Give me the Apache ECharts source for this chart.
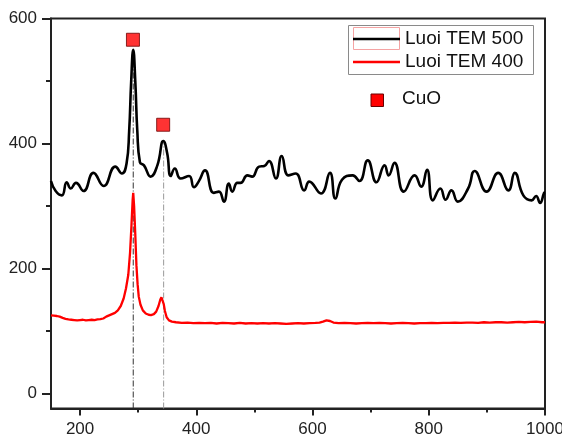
<!DOCTYPE html>
<html>
<head>
<meta charset="utf-8">
<script src="https://cdn.jsdelivr.net/npm/echarts@6/dist/echarts.min.js"></script>
<style>
html,body{margin:0;padding:0;background:#fff;}
#c{width:562px;height:436px;}
</style>
</head>
<body>
<div id="c"></div>
<script>
// ---- data ----
var xTicks = [200, 400, 600, 800, 1000];
var xMinorTicks = [300, 500, 700, 900];
var yTicks = [0, 200, 400, 600];
var yMinorTicks = [100, 300, 500];

var seriesNames = ['Luoi TEM 500', 'Luoi TEM 400'];

// Luoi TEM 500 (black)
var tem500 = [
  [150,340],[158,324],[168.6,317],[177,338],[184,328],[193,337],[206,324],[223,353],[240.6,332],
  [260.7,363],[272,352],[280,368],[284.5,420],[288,500],[291.5,550],[295,500],[298.5,420],[303,370],
  [310,365],[321.5,347],[333,365],[343.4,404],[350,384],[356,348],[363,360],[373,344],[387.6,348],
  [396,330],[404,339],[415,357],[430,321],[439,323],[447.5,307],[456,336],[462,323],[470.5,337],
  [476,337],[488,349],[496,347],[508,363],[517,364],[525,372],[537,344],[547,380],[558.5,349],
  [571,352],[585.7,325],[594.3,339],[614.5,320],[630,353],[639.3,312],[650.7,342],[669,349],
  [680.7,340],[695,373],[710,338],[724,365],[731,349],[741,369],[757,323],[775.7,349],[787,331],
  [797,358],[807,309],[820,328],[829,310],[839,325],[850,307],[867.7,328],[879,356],[899.5,323],
  [919.5,353],[937,325],[948,353],[962.7,317],[977,309],[984.7,316],[991.5,305],[998.5,321],[1000,322]
];

// Luoi TEM 400 (red)
var tem400 = [
  [150,125],[155,124.5],[160,124],[165,123],[170,121],[175,119.5],[180,118.5],[185,118],[190,117.5],
  [195,117],[200,117.5],[205,118],[210,117],[215,117.5],[220,118],[225,117.5],[230,118.5],[235,119],
  [240,120],[245,123],[250,125],[255,127],[260,129],[265,133],[270,140],[275,152],[279,168],[283,190],
  [286,225],[288.5,270],[290.5,310],[291.5,321],[293,300],[295,255],[297,205],[299,175],[301,155],
  [304,142],[308,133],[313,128],[318,126],[322,125.5],[327,127],[331,131],[335,140],[338,150],
  [340,154],[342,153],[344,143],[346,132],[349,122],[353,117],[358,115],[365,114],[375,113],
  [385,113.5],[395,112.5],[405,113],[415,112.5],[425,113],[435,112],[445,113],[455,112.5],[465,112],
  [475,113],[485,112],[495,112.5],[505,112],[515,112.5],[525,112],[535,112.5],[545,112],[555,111.5],
  [565,112],[575,112.5],[585,112],[595,112.5],[605,113],[612,113.5],[618,115],[624,117],[630,116],
  [636,113.5],[645,112.5],[655,113],[665,112.5],[675,112],[685,112.5],[695,113],[705,112.5],[715,113],
  [725,112.5],[735,112],[745,112.5],[755,113],[765,112.5],[775,112],[785,112.5],[795,112.5],[805,113],
  [815,112.5],[825,113],[835,113],[845,113.5],[855,113],[865,113.5],[875,113.5],[885,113],[895,114],
  [905,113.5],[915,114],[925,114],[935,113.5],[945,114],[955,114.5],[965,114],[975,114.5],[985,115],
  [995,114],[1000,114]
];

// CuO peak markers
var cuoMarkers = [[291,566],[343,430]];
// reference peak positions (vertical guide lines) : [x, top value]
var peakGuide1 = [[291.5,-24],[291.5,550]];
var peakGuide2 = [[343.8,-24],[343.8,404]];

var xMin = 150, xMax = 1000, yMin = -24, yMax = 600;

var FONT = "'Liberation Sans', Arial, sans-serif";
var AX = '#222';

var chart = echarts.init(document.getElementById('c'), null, {renderer:'canvas'});
chart.setOption({
  backgroundColor: '#fff',
  animation: false,
  grid: {left: 51, right: 17, top: 18.5, bottom: 27.5, containLabel: false, outerBoundsMode: 'none',
         show: true, borderColor: AX, borderWidth: 2, backgroundColor: 'transparent'},
  xAxis: [{
    type: 'value', min: xMin, max: xMax,
    axisLine: {show: true, onZero: false, lineStyle: {color: AX, width: 2}},
    axisTick: {show: true, inside: false, length: 7, customValues: xTicks, lineStyle: {color: AX, width: 2}},
    axisLabel: {show: true, customValues: xTicks, margin: 12, color: '#222', fontSize: 17, fontFamily: FONT,
                formatter: function (v) { return String(v); }},
    splitLine: {show: false}
  },{
    type: 'value', min: xMin, max: xMax, position: 'bottom',
    axisLine: {show: false, onZero: false},
    axisTick: {show: true, inside: false, length: 4, customValues: xMinorTicks, lineStyle: {color: AX, width: 2}},
    axisLabel: {show: false},
    splitLine: {show: false}
  }],
  yAxis: [{
    type: 'value', min: yMin, max: yMax,
    axisLine: {show: true, onZero: false, lineStyle: {color: AX, width: 2}},
    axisTick: {show: true, inside: false, length: 9, customValues: yTicks, lineStyle: {color: AX, width: 2}},
    axisLabel: {show: true, customValues: yTicks, margin: 14, color: '#222', fontSize: 17, fontFamily: FONT,
                formatter: function (v) { return String(v); }},
    splitLine: {show: false}
  },{
    type: 'value', min: yMin, max: yMax, position: 'left',
    axisLine: {show: false, onZero: false},
    axisTick: {show: true, inside: false, length: 5, customValues: yMinorTicks, lineStyle: {color: AX, width: 2}},
    axisLabel: {show: false},
    splitLine: {show: false}
  }],
  series: [
    {type: 'line', data: peakGuide1, symbol: 'none', silent: true, z: 1,
     lineStyle: {color: '#333', width: 1, type: [6, 2, 1, 2]}},
    {type: 'line', data: peakGuide2, symbol: 'none', silent: true, z: 1,
     lineStyle: {color: '#9a9a9a', width: 1, type: [6, 2, 1, 2]}},
    {name: seriesNames[1], type: 'line', data: tem400, symbol: 'none', smooth: false, z: 3,
     lineStyle: {color: '#ff0000', width: 2.3}},
    {name: seriesNames[0], type: 'line', data: tem500, symbol: 'none', smooth: 0.5, z: 4,
     lineStyle: {color: '#000', width: 2.6}},
    {name: 'CuO', type: 'scatter', data: cuoMarkers, symbol: 'rect', symbolSize: 13, z: 5,
     itemStyle: {color: '#ff0000', borderColor: '#6a0000', borderWidth: 1}}
  ],
  graphic: [
    {type: 'rect', shape: {x: 348.5, y: 25.5, width: 185, height: 49}, style: {fill: '#fff', stroke: '#8a8a8a', lineWidth: 1}, z: 10},
    {type: 'rect', shape: {x: 353.5, y: 27.5, width: 46, height: 22}, style: {fill: 'none', stroke: '#f5a3a3', lineWidth: 1}, z: 11},
    {type: 'line', shape: {x1: 353, y1: 39, x2: 400, y2: 39}, style: {stroke: '#000', lineWidth: 2.6}, z: 11},
    {type: 'text', x: 405, y: 39, style: {text: seriesNames[0], font: "19px " + FONT, fill: '#111', verticalAlign: 'middle', align: 'left'}, z: 11},
    {type: 'line', shape: {x1: 353, y1: 62, x2: 400, y2: 62}, style: {stroke: '#ff0000', lineWidth: 2.3}, z: 11},
    {type: 'text', x: 405, y: 62, style: {text: seriesNames[1], font: "19px " + FONT, fill: '#111', verticalAlign: 'middle', align: 'left'}, z: 11},
    {type: 'rect', shape: {x: 371, y: 94, width: 12.5, height: 12.5}, style: {fill: '#ff0000', stroke: '#6a0000', lineWidth: 1}, z: 11},
    {type: 'text', x: 402, y: 99, style: {text: 'CuO', font: "19px " + FONT, fill: '#111', verticalAlign: 'middle', align: 'left'}, z: 11}
  ]
});
</script>
</body>
</html>
